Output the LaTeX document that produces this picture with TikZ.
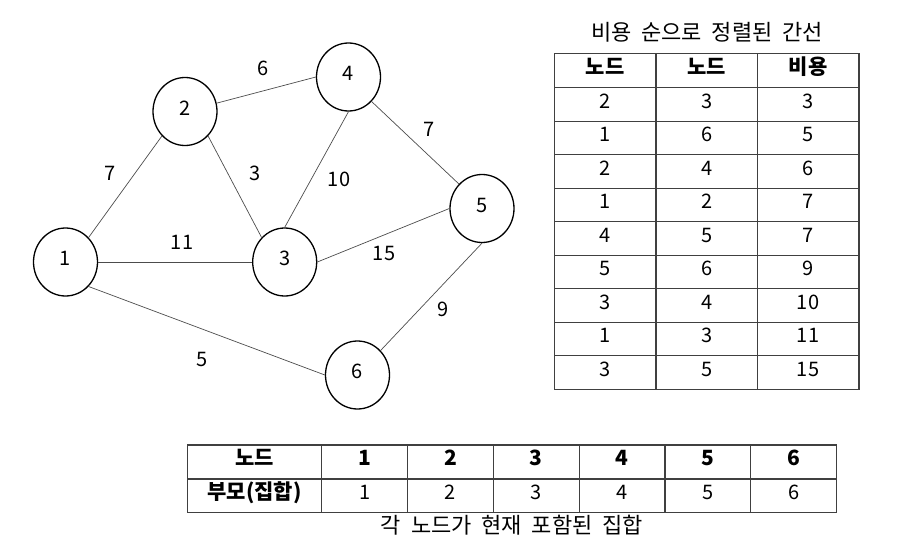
\documentclass[tikz,border=0pt]{standalone}
\usepackage{fontspec}
\setmainfont[WordSpace=2.0]{Noto Sans CJK KR}
\usetikzlibrary{shapes.geometric, positioning, calc}
\tikzstyle{vertex} = [ellipse, draw=black, line width=1.3pt, minimum width=64pt, minimum height=68pt, inner sep=0pt, text height=0.72em, text depth=0pt]
\tikzstyle{edge} = [draw=black!70, line width=0.7pt]
\tikzstyle{weight} = [inner sep=0pt, text height=0.72em, text depth=0pt]
\tikzstyle{cell} = [inner sep=0pt, text height=0.72em, text depth=0pt]
\tikzstyle{kortext} = [cell, font=\fontsize{22}{26}\selectfont]
\tikzstyle{headcell} = [cell, font=\fontsize{21}{25}\selectfont\bfseries]
\tikzstyle{grid} = [draw=black!75, line width=1.2pt]

\begin{document}
\begin{tikzpicture}[x=1pt, y=-1pt, font=\fontsize{20}{24}\selectfont]
\useasboundingbox (0,0) rectangle (897,557);

% Graph: vertices
\node (v1) [vertex] at (65.5,262) {1};
\node (v2) [vertex] at (185,111.5) {2};
\node (v3) [vertex] at (284.7,262) {3};
\node (v4) [vertex] at (348.5,77) {4};
\node (v5) [vertex] at (482,208.5) {5};
\node (v6) [vertex] at (357.5,375) {6};

% Graph: edges
\draw [edge] (v1.north east) -- (v2.south west);
\draw [edge] (v1.east) -- (v3.west);
\draw [edge] (v1.south east) -- (v6.west);
\draw [edge] (v2) -- (v4.west);
\draw [edge] (v2.south east) -- (v3.north west);
\draw [edge] (v3.north) -- (v4.south);
\draw [edge] (v3.east) -- (v5.west);
\draw [edge] (v4.south east) -- (v5.north west);
\draw [edge] (v6.north east) -- (v5.south);

% Graph: costs
\node (w24) [weight] at (263,72) {6};
\node (w12) [weight] at (110,177) {7};
\node (w23) [weight] at (255,177) {3};
\node (w34) [weight] at (339,183) {10};
\node (w45) [weight] at (429,133) {7};
\node (w13) [weight] at (182,246) {11};
\node (w35) [weight] at (384,257) {15};
\node (w56) [weight] at (443,313) {9};
\node (w16) [weight] at (202,363) {5};

% Sorted edge table
\node (sorttitle) [kortext] at (707,37) {비용 순으로 정렬된 간선};
\draw [grid] (554.3,53.3) rectangle (859,389.3);
\draw [grid] (656,53.3) -- (656,389.3);
\draw [grid] (757.3,53.3) -- (757.3,389.3);
\foreach \k in {0,...,8}
  \draw [grid] (554.3,87.7+33.5*\k) -- (859,87.7+33.5*\k);
\node (hfrom) [headcell] at (605,70.5) {노드};
\node (hto) [headcell] at (706.7,70.5) {노드};
\node (hcost) [headcell] at (808,70.5) {비용};
\foreach \a/\b/\c [count=\k] in {2/3/3, 1/6/5, 2/4/6, 1/2/7, 4/5/7, 5/6/9, 3/4/10, 1/3/11, 3/5/15} {
  \node (ra\k) [cell] at (605,70.95+33.5*\k) {\a};
  \node (rb\k) [cell] at (706.7,70.95+33.5*\k) {\b};
  \node (rc\k) [cell] at (808,70.95+33.5*\k) {\c};
}

% Parent table
\draw [grid] (187.3,445) rectangle (836.7,512.3);
\draw [grid] (187.3,479) -- (836.7,479);
\foreach \k in {0,...,5}
  \draw [grid] (321.7+85.83*\k,445) -- (321.7+85.83*\k,512.3);
\node (hnode) [headcell] at (254.5,462) {노드};
\node (hparent) [headcell] at (254.5,495.7) {부모(집합)};
\foreach \i in {1,...,6} {
  \node (pn\i) [headcell] at (364.6+85.83*\i-85.83,462) {\i};
  \node (pp\i) [cell] at (364.6+85.83*\i-85.83,495.7) {\i};
}
\node (parentcap) [kortext] at (512,530) {각 노드가 현재 포함된 집합};

\end{tikzpicture}
\end{document}
